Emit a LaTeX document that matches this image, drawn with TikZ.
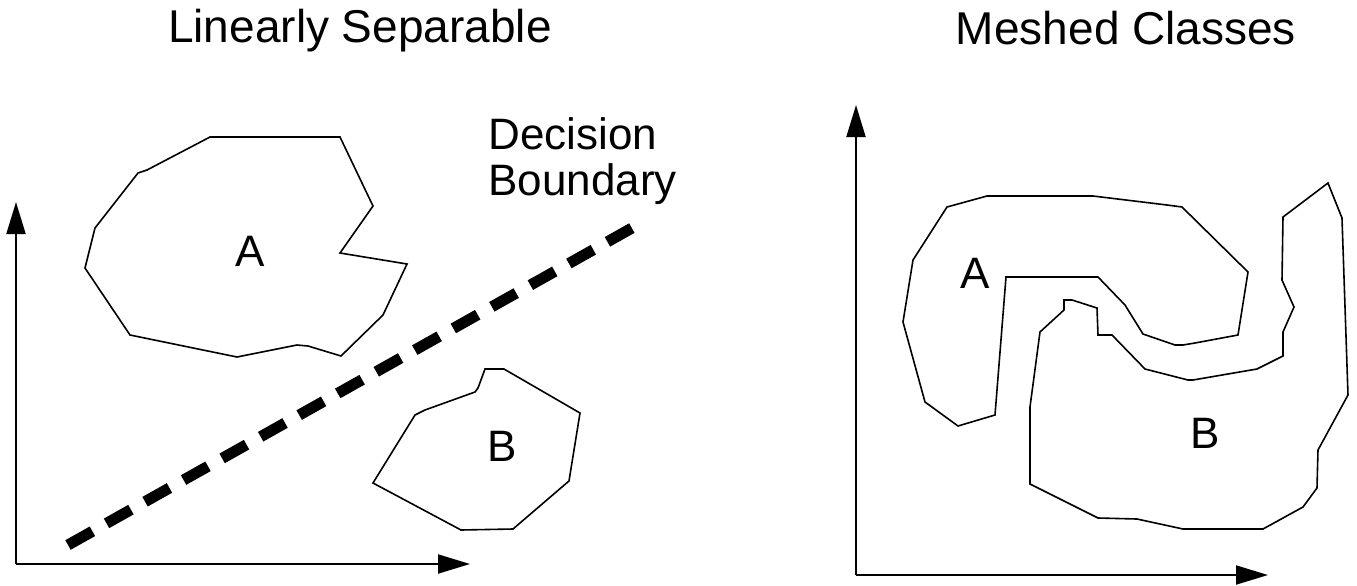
\documentclass[tikz,border=0pt]{standalone}
\usepackage{fontspec}
\setmainfont{Liberation Sans}
\usetikzlibrary{arrows.meta}
\begin{document}
\begin{tikzpicture}[x=0.5pt,y=-0.5pt,
  region/.style={draw=black, line width=0.8pt, line join=miter},
  axis/.style={draw=black, line width=1pt, -{Triangle[length=16pt,width=9.5pt]}},
  lbl/.style={font=\fontsize{22}{26}\selectfont, inner sep=0pt},
  ttl/.style={font=\fontsize{23}{27}\selectfont, inner sep=0pt},
  boundary/.style={draw=black, line width=5.5pt, dash pattern=on 14pt off 8.1pt}]
\useasboundingbox (0,0) rectangle (1357,585);

% ---------- Left panel: Linearly Separable ----------
\node[ttl, anchor=base] (titleL) at (360,42) {Linearly Separable};
\coordinate (oL) at (16,564);
\coordinate (yL) at (16,202);
\coordinate (xL) at (470,564);
\draw[axis] (oL) -- (yL);
\draw[axis] (oL) -- (xL);

\draw[region] (210,137) -- (340,137) -- (373,206) -- (340,253) -- (407,264)
  -- (383,315) -- (341,356) -- (308,346) -- (297,345) -- (237,357)
  -- (130,335) -- (85,268) -- (95,228) -- (138,173) -- (147,170) -- cycle;
\node[lbl] (lblA1) at (250,251) {A};

\draw[region] (485,369) -- (504,369) -- (580,413) -- (569,481) -- (513,529)
  -- (461,530) -- (373,483) -- (415,415) -- (425,410) -- (475,392)
  -- (478,388) -- cycle;
\node[lbl] (lblB1) at (502,446) {B};

\coordinate (dbS) at (68,545);
\coordinate (dbE) at (632,228);
\draw[boundary] (dbS) -- (dbE);
\node[lbl, anchor=base west] (dec1) at (488,149) {Decision};
\node[lbl, anchor=base west] (dec2) at (488,195) {Boundary};

% ---------- Right panel: Meshed Classes ----------
\node[ttl, anchor=base] (titleR) at (1126,44) {Meshed Classes};
\coordinate (oR) at (856,575);
\coordinate (yR) at (856,105);
\coordinate (xR) at (1268,575);
\draw[axis] (oR) -- (yR);
\draw[axis] (oR) -- (xR);

\draw[region] (947,207) -- (987,196) -- (1093,196) -- (1167,205) -- (1182,207)
  -- (1248,272) -- (1238,335) -- (1195,343) -- (1183,345) -- (1175,345)
  -- (1143,334) -- (1125,305) -- (1098,277) -- (1006,277) -- (995,415)
  -- (958,426) -- (925,402) -- (903,322) -- (913,260) -- cycle;
\node[lbl] (lblA2) at (975,273) {A};

\draw[region] (1328,183) -- (1342,218) -- (1348,395) -- (1318,450) -- (1317,488)
  -- (1303,507) -- (1263,529) -- (1183,529) -- (1137,519) -- (1098,518)
  -- (1030,484) -- (1030,407) -- (1040,332) -- (1064,310) -- (1064,300)
  -- (1072,300) -- (1097,308) -- (1098,335) -- (1112,335) -- (1145,369)
  -- (1188,380) -- (1193,380) -- (1257,369) -- (1283,356) -- (1283,332)
  -- (1294,307) -- (1282,280) -- (1283,217) -- cycle;
\node[lbl] (lblB2) at (1205,433) {B};
\end{tikzpicture}
\end{document}
